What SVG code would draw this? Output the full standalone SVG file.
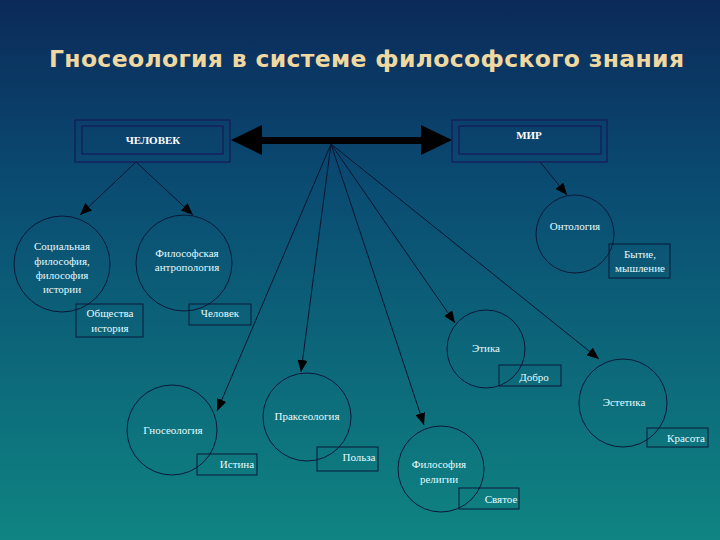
<svg xmlns="http://www.w3.org/2000/svg" width="720" height="540" viewBox="0 0 720 540">
<defs>
<linearGradient id="bg" x1="0" y1="0" x2="0" y2="1">
<stop offset="0" stop-color="#0b2a5a"/>
<stop offset="0.35" stop-color="#0a4c72"/>
<stop offset="1" stop-color="#0f8482"/>
</linearGradient>
<marker id="ah" viewBox="0 0 12 10" refX="12" refY="5" markerWidth="12" markerHeight="10" markerUnits="userSpaceOnUse" orient="auto">
<path d="M0,0 L12,5 L0,10 Z" fill="#000"/>
</marker>
<style>
.t{font-family:"Liberation Serif","DejaVu Serif",serif;font-size:11px;fill:#e4fbff;text-anchor:middle}
.tb{font-family:"Liberation Serif","DejaVu Serif",serif;font-size:11px;font-weight:bold;fill:#ffffff;text-anchor:middle}
.c{fill:none;stroke:#0a1838;stroke-width:1}
.b{fill:none;stroke:#0a1838;stroke-width:1}
.frame{fill:none;stroke:#161a5a;stroke-width:1.2}
.ln{stroke:#0a1530;stroke-width:1;fill:none}
</style>
</defs>
<rect width="720" height="540" fill="url(#bg)"/>
<text x="49" y="67" font-family="DejaVu Sans, Verdana, sans-serif" font-weight="bold" font-size="23.5" fill="#f0d9a0" textLength="635" lengthAdjust="spacing">Гносеология в системе философского знания</text>

<g id="connectors">
<rect x="258" y="137" width="166" height="7" fill="#000"/>
<polygon points="231,140 262,125 262,155" fill="#000"/>
<polygon points="452,140 421,125 421,155" fill="#000"/>
<line class="ln" x1="136" y1="162" x2="80" y2="215" marker-end="url(#ah)"/>
<line class="ln" x1="136" y1="162" x2="193" y2="215" marker-end="url(#ah)"/>
<line class="ln" x1="540" y1="162" x2="567" y2="195" marker-end="url(#ah)"/>
<line class="ln" x1="331" y1="144" x2="217" y2="411" marker-end="url(#ah)"/>
<line class="ln" x1="331" y1="144" x2="301" y2="372" marker-end="url(#ah)"/>
<line class="ln" x1="331" y1="144" x2="424" y2="425" marker-end="url(#ah)"/>
<line class="ln" x1="331" y1="144" x2="455" y2="323" marker-end="url(#ah)"/>
<line class="ln" x1="331" y1="144" x2="599" y2="359" marker-end="url(#ah)"/>
</g>

<g id="chelovek">
<rect class="frame" x="75" y="120" width="155" height="42"/>
<rect class="frame" x="82" y="126" width="141" height="28"/>
<text class="tb" x="153" y="144">ЧЕЛОВЕК</text>
</g>
<g id="mir">
<rect class="frame" x="452" y="120" width="155" height="42"/>
<rect class="frame" x="459" y="126" width="142" height="28"/>
<text class="tb" x="529" y="139">МИР</text>
</g>

<g id="social">
<circle class="c" cx="62" cy="264" r="48"/>
<text class="t" x="62" y="250">Социальная</text>
<text class="t" x="62" y="265">философия,</text>
<text class="t" x="62" y="279">философия</text>
<text class="t" x="62" y="293">истории</text>
<rect class="b" x="76" y="304" width="67" height="33"/>
<text class="t" x="110" y="317">Общества</text>
<text class="t" x="110" y="332">история</text>
</g>

<g id="anthropology">
<circle class="c" cx="184" cy="263" r="48"/>
<text class="t" x="187" y="257">Философская</text>
<text class="t" x="187" y="271">антропология</text>
<rect class="b" x="189" y="304" width="62" height="21"/>
<text class="t" x="220" y="317">Человек</text>
</g>

<g id="ontology">
<circle class="c" cx="575" cy="234" r="39"/>
<text class="t" x="575" y="230">Онтология</text>
<rect class="b" x="609" y="244" width="61" height="34"/>
<text class="t" x="640" y="258">Бытие,</text>
<text class="t" x="640" y="272">мышление</text>
</g>

<g id="ethics">
<circle class="c" cx="486" cy="349" r="39"/>
<text class="t" x="486" y="352">Этика</text>
<rect class="b" x="499" y="365" width="62" height="21"/>
<text class="t" x="534" y="381">Добро</text>
</g>

<g id="aesthetics">
<circle class="c" cx="623" cy="403" r="44"/>
<text class="t" x="624" y="406">Эстетика</text>
<rect class="b" x="647" y="428" width="61" height="19"/>
<text class="t" x="686" y="442">Красота</text>
</g>

<g id="gnoseology">
<circle class="c" cx="172" cy="430" r="45"/>
<text class="t" x="173" y="434">Гносеология</text>
<rect class="b" x="197" y="454" width="60" height="21"/>
<text class="t" x="237" y="468">Истина</text>
</g>

<g id="praxeology">
<circle class="c" cx="307" cy="417" r="44"/>
<text class="t" x="307" y="420">Праксеология</text>
<rect class="b" x="317" y="447" width="61" height="24"/>
<text class="t" x="359" y="461">Польза</text>
</g>

<g id="religion">
<circle class="c" cx="441" cy="469" r="43"/>
<text class="t" x="439" y="468">Философия</text>
<text class="t" x="439" y="483">религии</text>
<rect class="b" x="459" y="488" width="60" height="21"/>
<text class="t" x="501" y="503">Святое</text>
</g>
</svg>
